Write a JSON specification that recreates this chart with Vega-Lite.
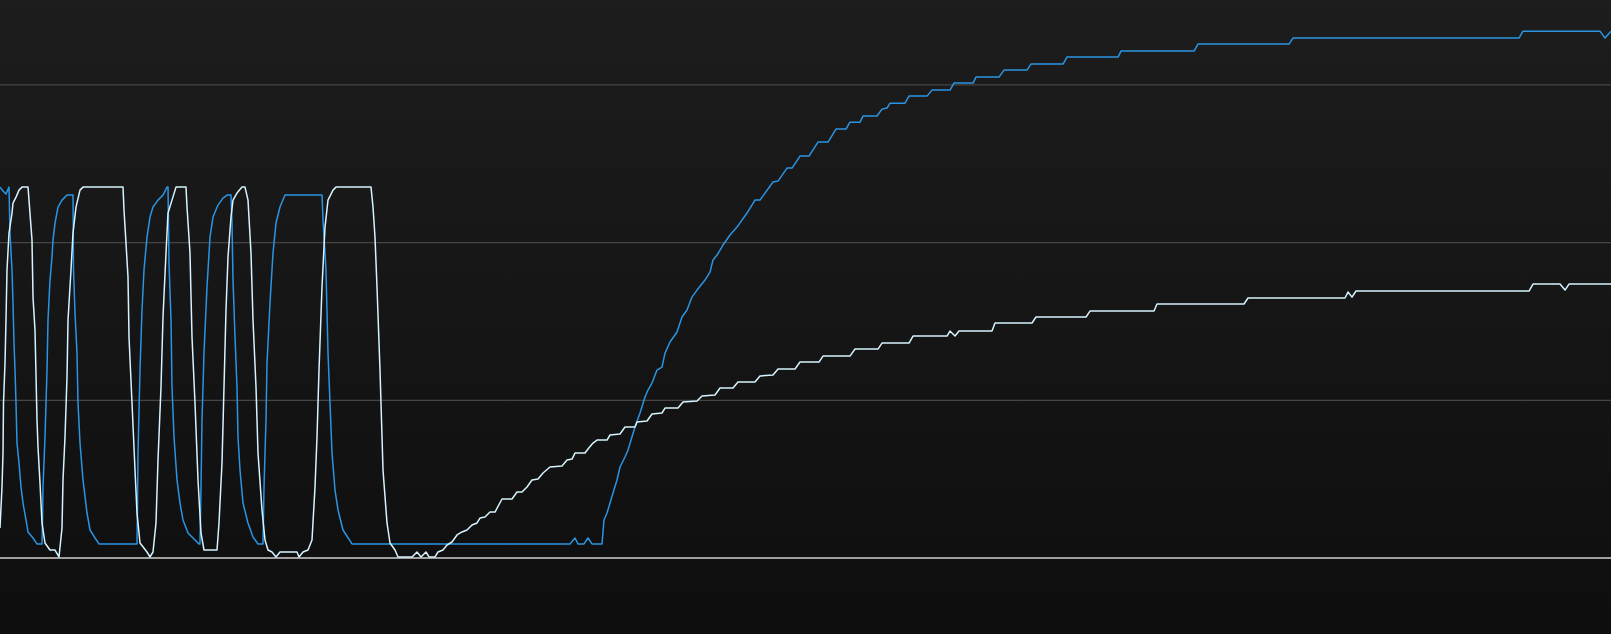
{
  "$schema": "https://vega.github.io/schema/vega-lite/v6.json",
  "width": 1611,
  "height": 634,
  "padding": 0,
  "autosize": {"type": "none"},
  "background": "#161616",
  "view": {
    "stroke": null,
    "fill": {
      "gradient": "linear", "x1": 0, "y1": 0, "x2": 0, "y2": 1,
      "stops": [{"offset": 0, "color": "#1d1d1d"}, {"offset": 1, "color": "#0e0e0e"}]
    }
  },
  "datasets": {
    "grid": [{"g": 20}, {"g": 40}, {"g": 60}],
    "base": [{"g": 0}],
    "blue": [
      {"t":0,"v":47.04},{"t":3,"v":46.54},{"t":6,"v":46.16},{"t":9,"v":47.04},{"t":10,"v":41.21},{"t":12,"v":36.52},{"t":13,"v":32.33},{"t":14,"v":27.26},{"t":15,"v":23.84},{"t":16,"v":19.65},{"t":17,"v":14.58},{"t":19,"v":12.05},{"t":21,"v":9.0},{"t":23,"v":6.97},{"t":26,"v":4.82},{"t":28,"v":3.3},{"t":33,"v":2.54},{"t":37,"v":1.78},{"t":42,"v":1.78},{"t":42.5,"v":4.82},{"t":43,"v":9.0},{"t":45,"v":15.34},{"t":47,"v":23.84},{"t":48,"v":30.18},{"t":50,"v":35.25},{"t":52,"v":38.17},{"t":53,"v":40.32},{"t":55,"v":42.48},{"t":58,"v":44.51},{"t":62,"v":45.39},{"t":67,"v":46.03},{"t":73,"v":46.03},{"t":73.5,"v":36.52},{"t":75,"v":31.07},{"t":77,"v":25.99},{"t":78,"v":19.65},{"t":80,"v":14.58},{"t":83,"v":9.89},{"t":87,"v":5.71},{"t":90,"v":3.55},{"t":95,"v":2.54},{"t":99,"v":1.78},{"t":137,"v":1.78},{"t":137.5,"v":6.97},{"t":138,"v":13.31},{"t":140,"v":23.84},{"t":142,"v":31.45},{"t":144,"v":36.52},{"t":147,"v":40.7},{"t":150,"v":43.24},{"t":153,"v":44.51},{"t":158,"v":45.39},{"t":163,"v":46.03},{"t":167,"v":47.04},{"t":168,"v":47.04},{"t":169,"v":37.41},{"t":171,"v":30.18},{"t":172,"v":21.68},{"t":174,"v":15.34},{"t":177,"v":9.89},{"t":180,"v":6.97},{"t":183,"v":4.82},{"t":188,"v":3.17},{"t":193,"v":2.54},{"t":199,"v":1.78},{"t":200,"v":1.78},{"t":201,"v":9.0},{"t":202,"v":17.5},{"t":204,"v":25.99},{"t":207,"v":34.36},{"t":210,"v":40.7},{"t":213,"v":43.24},{"t":218,"v":44.76},{"t":223,"v":45.65},{"t":227,"v":46.03},{"t":231,"v":46.03},{"t":232,"v":42.48},{"t":233,"v":35.25},{"t":235,"v":28.02},{"t":237,"v":21.68},{"t":238,"v":15.34},{"t":240,"v":11.16},{"t":243,"v":6.97},{"t":248,"v":4.44},{"t":253,"v":2.66},{"t":258,"v":1.78},{"t":263,"v":1.78},{"t":264,"v":9.0},{"t":266,"v":17.5},{"t":267,"v":24.73},{"t":270,"v":32.33},{"t":273,"v":38.67},{"t":276,"v":42.48},{"t":280,"v":44.51},{"t":285,"v":46.03},{"t":322,"v":46.03},{"t":323,"v":42.86},{"t":326,"v":36.52},{"t":328,"v":25.99},{"t":330,"v":19.65},{"t":332,"v":13.31},{"t":335,"v":8.62},{"t":338,"v":6.09},{"t":343,"v":3.55},{"t":352,"v":1.78},{"t":570,"v":1.78},{"t":575,"v":2.54},{"t":578,"v":1.78},{"t":584,"v":1.78},{"t":588,"v":2.54},{"t":592,"v":1.78},{"t":602,"v":1.78},{"t":604,"v":4.82},{"t":607,"v":5.71},{"t":610,"v":6.97},{"t":613,"v":8.24},{"t":617,"v":9.89},{"t":620,"v":11.54},{"t":625,"v":12.81},{"t":628,"v":13.69},{"t":635,"v":16.61},{"t":640,"v":18.39},{"t":645,"v":20.41},{"t":648,"v":21.3},{"t":652,"v":22.19},{"t":657,"v":23.84},{"t":662,"v":24.22},{"t":665,"v":25.99},{"t":670,"v":27.39},{"t":677,"v":28.66},{"t":682,"v":30.56},{"t":687,"v":31.45},{"t":692,"v":33.09},{"t":697,"v":33.98},{"t":705,"v":35.25},{"t":710,"v":36.26},{"t":713,"v":37.79},{"t":717,"v":38.42},{"t":723,"v":39.69},{"t":730,"v":40.96},{"t":737,"v":41.97},{"t":747,"v":43.75},{"t":755,"v":45.39},{"t":760,"v":45.39},{"t":773,"v":47.68},{"t":778,"v":47.8},{"t":787,"v":49.45},{"t":792,"v":49.45},{"t":800,"v":50.97},{"t":809,"v":50.97},{"t":818,"v":52.75},{"t":828,"v":52.75},{"t":836,"v":54.4},{"t":846,"v":54.4},{"t":850,"v":55.28},{"t":860,"v":55.28},{"t":863,"v":56.05},{"t":877,"v":56.05},{"t":882,"v":56.93},{"t":887,"v":57.06},{"t":890,"v":57.69},{"t":905,"v":57.69},{"t":909,"v":58.58},{"t":927,"v":58.58},{"t":932,"v":59.34},{"t":950,"v":59.34},{"t":954,"v":60.23},{"t":973,"v":60.23},{"t":976,"v":60.99},{"t":999,"v":60.99},{"t":1004,"v":61.88},{"t":1027,"v":61.88},{"t":1031,"v":62.64},{"t":1063,"v":62.64},{"t":1067,"v":63.53},{"t":1118,"v":63.53},{"t":1121,"v":64.29},{"t":1194,"v":64.29},{"t":1198,"v":65.18},{"t":1289,"v":65.18},{"t":1293,"v":65.94},{"t":1519,"v":65.94},{"t":1523,"v":66.82},{"t":1600,"v":66.82},{"t":1605,"v":65.94},{"t":1611,"v":66.82}
    ],
    "white": [
      {"t":0,"v":3.8},{"t":2,"v":9.0},{"t":3,"v":13.31},{"t":3.5,"v":19.65},{"t":5,"v":24.73},{"t":6,"v":30.18},{"t":7,"v":36.52},{"t":9,"v":41.21},{"t":12,"v":43.75},{"t":13,"v":45.01},{"t":16,"v":45.77},{"t":19,"v":46.66},{"t":22,"v":47.04},{"t":28,"v":47.04},{"t":29,"v":45.39},{"t":32,"v":40.32},{"t":33,"v":33.09},{"t":35,"v":28.91},{"t":37,"v":17.5},{"t":38,"v":14.07},{"t":40,"v":9.51},{"t":42,"v":4.44},{"t":45,"v":1.9},{"t":50,"v":1.01},{"t":55,"v":1.01},{"t":59,"v":0.13},{"t":62,"v":3.8},{"t":63,"v":9.89},{"t":65,"v":15.34},{"t":67,"v":22.95},{"t":68,"v":30.18},{"t":71,"v":36.52},{"t":73,"v":41.21},{"t":76,"v":44.51},{"t":80,"v":46.66},{"t":83,"v":47.04},{"t":123,"v":47.04},{"t":124,"v":44.13},{"t":126,"v":39.94},{"t":128,"v":35.63},{"t":129,"v":28.02},{"t":132,"v":19.65},{"t":135,"v":11.16},{"t":137,"v":5.71},{"t":140,"v":1.9},{"t":147,"v":0.76},{"t":150,"v":0.13},{"t":153,"v":0.76},{"t":156,"v":4.44},{"t":158,"v":12.43},{"t":161,"v":21.68},{"t":163,"v":30.56},{"t":166,"v":38.67},{"t":168,"v":43.75},{"t":172,"v":45.39},{"t":176,"v":47.04},{"t":186,"v":47.04},{"t":187,"v":44.51},{"t":190,"v":38.67},{"t":192,"v":28.02},{"t":195,"v":19.65},{"t":198,"v":9.89},{"t":201,"v":3.17},{"t":204,"v":1.01},{"t":217,"v":1.01},{"t":219,"v":4.44},{"t":222,"v":12.05},{"t":224,"v":21.68},{"t":226,"v":31.45},{"t":228,"v":38.17},{"t":231,"v":43.24},{"t":233,"v":45.39},{"t":237,"v":46.28},{"t":242,"v":47.04},{"t":245,"v":47.04},{"t":248,"v":45.39},{"t":251,"v":38.67},{"t":253,"v":30.18},{"t":256,"v":21.68},{"t":258,"v":13.31},{"t":262,"v":6.09},{"t":265,"v":2.28},{"t":268,"v":1.01},{"t":272,"v":0.76},{"t":276,"v":0.13},{"t":280,"v":0.76},{"t":297,"v":0.76},{"t":299,"v":0.13},{"t":303,"v":0.76},{"t":308,"v":1.01},{"t":312,"v":2.28},{"t":315,"v":9.0},{"t":317,"v":15.34},{"t":319,"v":23.84},{"t":322,"v":34.36},{"t":325,"v":41.97},{"t":328,"v":45.39},{"t":333,"v":46.66},{"t":336,"v":47.04},{"t":371,"v":47.04},{"t":373,"v":44.51},{"t":375,"v":40.7},{"t":377,"v":34.36},{"t":380,"v":23.84},{"t":383,"v":11.16},{"t":387,"v":4.44},{"t":390,"v":1.9},{"t":395,"v":1.01},{"t":398,"v":0.13},{"t":412,"v":0.13},{"t":417,"v":0.76},{"t":421,"v":0.13},{"t":426,"v":0.76},{"t":429,"v":0.13},{"t":435,"v":0.13},{"t":438,"v":0.76},{"t":443,"v":1.01},{"t":447,"v":1.65},{"t":452,"v":2.03},{"t":457,"v":2.92},{"t":462,"v":3.3},{"t":467,"v":3.55},{"t":472,"v":4.18},{"t":477,"v":4.44},{"t":480,"v":5.07},{"t":485,"v":5.2},{"t":490,"v":5.83},{"t":495,"v":5.83},{"t":502,"v":7.48},{"t":512,"v":7.48},{"t":517,"v":8.37},{"t":522,"v":8.37},{"t":527,"v":9.0},{"t":532,"v":9.89},{"t":538,"v":10.02},{"t":543,"v":10.78},{"t":550,"v":11.54},{"t":562,"v":11.67},{"t":567,"v":12.43},{"t":572,"v":12.55},{"t":575,"v":13.31},{"t":585,"v":13.31},{"t":588,"v":13.82},{"t":593,"v":14.58},{"t":597,"v":14.96},{"t":607,"v":14.96},{"t":610,"v":15.6},{"t":620,"v":15.72},{"t":625,"v":16.61},{"t":635,"v":16.61},{"t":637,"v":17.24},{"t":647,"v":17.37},{"t":652,"v":18.26},{"t":662,"v":18.39},{"t":665,"v":19.02},{"t":678,"v":19.02},{"t":683,"v":19.78},{"t":697,"v":19.91},{"t":702,"v":20.54},{"t":715,"v":20.67},{"t":720,"v":21.56},{"t":733,"v":21.56},{"t":738,"v":22.32},{"t":755,"v":22.32},{"t":760,"v":23.08},{"t":773,"v":23.2},{"t":778,"v":23.97},{"t":795,"v":23.97},{"t":800,"v":24.85},{"t":819,"v":24.85},{"t":823,"v":25.61},{"t":850,"v":25.61},{"t":855,"v":26.5},{"t":878,"v":26.5},{"t":882,"v":27.26},{"t":909,"v":27.26},{"t":913,"v":28.15},{"t":947,"v":28.15},{"t":950,"v":28.78},{"t":955,"v":28.15},{"t":959,"v":28.78},{"t":992,"v":28.78},{"t":995,"v":29.8},{"t":1032,"v":29.8},{"t":1036,"v":30.56},{"t":1086,"v":30.56},{"t":1090,"v":31.32},{"t":1154,"v":31.32},{"t":1157,"v":32.21},{"t":1244,"v":32.21},{"t":1248,"v":32.97},{"t":1345,"v":32.97},{"t":1348,"v":33.73},{"t":1352,"v":33.09},{"t":1356,"v":33.86},{"t":1529,"v":33.86},{"t":1533,"v":34.74},{"t":1560,"v":34.74},{"t":1565,"v":33.98},{"t":1569,"v":34.74},{"t":1611,"v":34.74}
    ]
  },
  "layer": [
    {
      "data": {"name": "grid"},
      "mark": {"type": "rule", "color": "#454545", "strokeWidth": 1.2},
      "encoding": {
        "y": {
          "field": "g",
          "type": "quantitative",
          "scale": {"domain": [-9.64, 70.77], "nice": false, "zero": false},
          "axis": null
        }
      }
    },
    {
      "data": {"name": "base"},
      "mark": {"type": "rule", "color": "#cfcfcf", "strokeWidth": 1.5},
      "encoding": {
        "y": {"field": "g", "type": "quantitative"}
      }
    },
    {
      "data": {"name": "blue"},
      "mark": {"type": "line", "color": "#2b95e3", "strokeWidth": 1.5, "strokeJoin": "round", "interpolate": "linear", "clip": true},
      "encoding": {
        "x": {"field": "t", "type": "quantitative", "scale": {"domain": [0, 1611], "nice": false, "zero": false}, "axis": null},
        "y": {"field": "v", "type": "quantitative"}
      }
    },
    {
      "data": {"name": "white"},
      "mark": {"type": "line", "color": "#d6f4ff", "strokeWidth": 1.5, "strokeJoin": "round", "interpolate": "linear", "clip": true},
      "encoding": {
        "x": {"field": "t", "type": "quantitative"},
        "y": {"field": "v", "type": "quantitative"}
      }
    }
  ]
}
